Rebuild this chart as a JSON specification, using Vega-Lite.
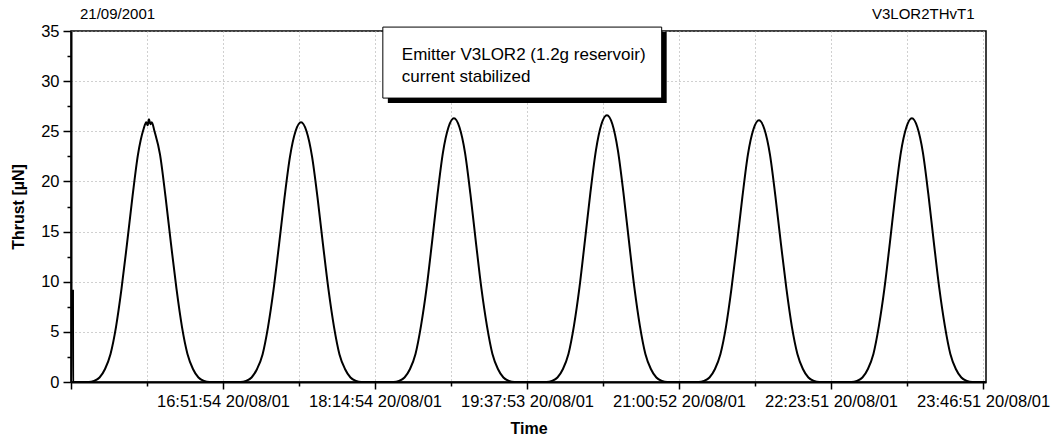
{
  "$schema": "https://vega.github.io/schema/vega-lite/v6.json",
  "autosize": {"type": "none"},
  "padding": {"left": 71, "top": 31, "right": 71, "bottom": 62},
  "width": 915,
  "height": 351,
  "background": "white",
  "config": {
    "font": "Liberation Sans",
    "view": {"stroke": "#000", "strokeWidth": 1.5},
    "axis": {
      "domainColor": "#000", "domainWidth": 2,
      "tickColor": "#000", "tickWidth": 1.5,
      "labelColor": "#000", "titleColor": "#000",
      "labelFont": "Liberation Sans", "titleFont": "Liberation Sans",
      "labelFontSize": 16.5, "titleFontSize": 16,
      "gridColor": "#a0a0a0", "gridDash": [1, 3], "gridWidth": 1
    }
  },
  "data": {"values": [
    {"time": "2001-08-20T15:30:00", "thrust": 9.2},
    {"time": "2001-08-20T15:30:05", "thrust": 0},
    {"time": "2001-08-20T15:38:30", "thrust": 0},
    {"time": "2001-08-20T15:41:30", "thrust": 0.1},
    {"time": "2001-08-20T15:44:30", "thrust": 0.45},
    {"time": "2001-08-20T15:47:30", "thrust": 1.3},
    {"time": "2001-08-20T15:50:30", "thrust": 2.8},
    {"time": "2001-08-20T15:53:30", "thrust": 5.5},
    {"time": "2001-08-20T15:56:30", "thrust": 9.3},
    {"time": "2001-08-20T15:59:30", "thrust": 13.8},
    {"time": "2001-08-20T16:02:30", "thrust": 18.5},
    {"time": "2001-08-20T16:05:30", "thrust": 22.7},
    {"time": "2001-08-20T16:08:30", "thrust": 25.2},
    {"time": "2001-08-20T16:10:00", "thrust": 25.9},
    {"time": "2001-08-20T16:10:45", "thrust": 25.6},
    {"time": "2001-08-20T16:11:30", "thrust": 26.2},
    {"time": "2001-08-20T16:12:15", "thrust": 25.7},
    {"time": "2001-08-20T16:13:00", "thrust": 25.9},
    {"time": "2001-08-20T16:14:30", "thrust": 25.0},
    {"time": "2001-08-20T16:17:30", "thrust": 22.7},
    {"time": "2001-08-20T16:20:30", "thrust": 18.5},
    {"time": "2001-08-20T16:23:30", "thrust": 13.8},
    {"time": "2001-08-20T16:26:30", "thrust": 9.3},
    {"time": "2001-08-20T16:29:30", "thrust": 5.5},
    {"time": "2001-08-20T16:32:30", "thrust": 2.8},
    {"time": "2001-08-20T16:35:30", "thrust": 1.3},
    {"time": "2001-08-20T16:38:30", "thrust": 0.45},
    {"time": "2001-08-20T16:41:30", "thrust": 0.1},
    {"time": "2001-08-20T16:44:30", "thrust": 0},
    {"time": "2001-08-20T17:01:30", "thrust": 0},
    {"time": "2001-08-20T17:04:30", "thrust": 0.1},
    {"time": "2001-08-20T17:07:30", "thrust": 0.45},
    {"time": "2001-08-20T17:10:30", "thrust": 1.3},
    {"time": "2001-08-20T17:13:30", "thrust": 2.75},
    {"time": "2001-08-20T17:16:30", "thrust": 5.5},
    {"time": "2001-08-20T17:19:30", "thrust": 9.2},
    {"time": "2001-08-20T17:22:30", "thrust": 13.7},
    {"time": "2001-08-20T17:25:30", "thrust": 18.4},
    {"time": "2001-08-20T17:28:30", "thrust": 22.5},
    {"time": "2001-08-20T17:31:30", "thrust": 25.0},
    {"time": "2001-08-20T17:34:30", "thrust": 25.9},
    {"time": "2001-08-20T17:37:30", "thrust": 25.0},
    {"time": "2001-08-20T17:40:30", "thrust": 22.5},
    {"time": "2001-08-20T17:43:30", "thrust": 18.4},
    {"time": "2001-08-20T17:46:30", "thrust": 13.7},
    {"time": "2001-08-20T17:49:30", "thrust": 9.2},
    {"time": "2001-08-20T17:52:30", "thrust": 5.5},
    {"time": "2001-08-20T17:55:30", "thrust": 2.75},
    {"time": "2001-08-20T17:58:30", "thrust": 1.3},
    {"time": "2001-08-20T18:01:30", "thrust": 0.45},
    {"time": "2001-08-20T18:04:30", "thrust": 0.1},
    {"time": "2001-08-20T18:07:30", "thrust": 0},
    {"time": "2001-08-20T18:25:00", "thrust": 0},
    {"time": "2001-08-20T18:28:00", "thrust": 0.1},
    {"time": "2001-08-20T18:31:00", "thrust": 0.45},
    {"time": "2001-08-20T18:34:00", "thrust": 1.3},
    {"time": "2001-08-20T18:37:00", "thrust": 2.8},
    {"time": "2001-08-20T18:40:00", "thrust": 5.6},
    {"time": "2001-08-20T18:43:00", "thrust": 9.3},
    {"time": "2001-08-20T18:46:00", "thrust": 13.9},
    {"time": "2001-08-20T18:49:00", "thrust": 18.7},
    {"time": "2001-08-20T18:52:00", "thrust": 22.9},
    {"time": "2001-08-20T18:55:00", "thrust": 25.4},
    {"time": "2001-08-20T18:58:00", "thrust": 26.3},
    {"time": "2001-08-20T19:01:00", "thrust": 25.4},
    {"time": "2001-08-20T19:04:00", "thrust": 22.9},
    {"time": "2001-08-20T19:07:00", "thrust": 18.7},
    {"time": "2001-08-20T19:10:00", "thrust": 13.9},
    {"time": "2001-08-20T19:13:00", "thrust": 9.3},
    {"time": "2001-08-20T19:16:00", "thrust": 5.6},
    {"time": "2001-08-20T19:19:00", "thrust": 2.8},
    {"time": "2001-08-20T19:22:00", "thrust": 1.3},
    {"time": "2001-08-20T19:25:00", "thrust": 0.45},
    {"time": "2001-08-20T19:28:00", "thrust": 0.1},
    {"time": "2001-08-20T19:31:00", "thrust": 0},
    {"time": "2001-08-20T19:48:30", "thrust": 0},
    {"time": "2001-08-20T19:51:30", "thrust": 0.1},
    {"time": "2001-08-20T19:54:30", "thrust": 0.45},
    {"time": "2001-08-20T19:57:30", "thrust": 1.3},
    {"time": "2001-08-20T20:00:30", "thrust": 2.8},
    {"time": "2001-08-20T20:03:30", "thrust": 5.6},
    {"time": "2001-08-20T20:06:30", "thrust": 9.4},
    {"time": "2001-08-20T20:09:30", "thrust": 14.1},
    {"time": "2001-08-20T20:12:30", "thrust": 18.9},
    {"time": "2001-08-20T20:15:30", "thrust": 23.1},
    {"time": "2001-08-20T20:18:30", "thrust": 25.7},
    {"time": "2001-08-20T20:21:30", "thrust": 26.6},
    {"time": "2001-08-20T20:24:30", "thrust": 25.7},
    {"time": "2001-08-20T20:27:30", "thrust": 23.1},
    {"time": "2001-08-20T20:30:30", "thrust": 18.9},
    {"time": "2001-08-20T20:33:30", "thrust": 14.1},
    {"time": "2001-08-20T20:36:30", "thrust": 9.4},
    {"time": "2001-08-20T20:39:30", "thrust": 5.6},
    {"time": "2001-08-20T20:42:30", "thrust": 2.8},
    {"time": "2001-08-20T20:45:30", "thrust": 1.3},
    {"time": "2001-08-20T20:48:30", "thrust": 0.45},
    {"time": "2001-08-20T20:51:30", "thrust": 0.1},
    {"time": "2001-08-20T20:54:30", "thrust": 0},
    {"time": "2001-08-20T21:11:30", "thrust": 0},
    {"time": "2001-08-20T21:14:30", "thrust": 0.1},
    {"time": "2001-08-20T21:17:30", "thrust": 0.45},
    {"time": "2001-08-20T21:20:30", "thrust": 1.3},
    {"time": "2001-08-20T21:23:30", "thrust": 2.8},
    {"time": "2001-08-20T21:26:30", "thrust": 5.5},
    {"time": "2001-08-20T21:29:30", "thrust": 9.3},
    {"time": "2001-08-20T21:32:30", "thrust": 13.8},
    {"time": "2001-08-20T21:35:30", "thrust": 18.5},
    {"time": "2001-08-20T21:38:30", "thrust": 22.7},
    {"time": "2001-08-20T21:41:30", "thrust": 25.2},
    {"time": "2001-08-20T21:44:30", "thrust": 26.1},
    {"time": "2001-08-20T21:47:30", "thrust": 25.2},
    {"time": "2001-08-20T21:50:30", "thrust": 22.7},
    {"time": "2001-08-20T21:53:30", "thrust": 18.5},
    {"time": "2001-08-20T21:56:30", "thrust": 13.8},
    {"time": "2001-08-20T21:59:30", "thrust": 9.3},
    {"time": "2001-08-20T22:02:30", "thrust": 5.5},
    {"time": "2001-08-20T22:05:30", "thrust": 2.8},
    {"time": "2001-08-20T22:08:30", "thrust": 1.3},
    {"time": "2001-08-20T22:11:30", "thrust": 0.45},
    {"time": "2001-08-20T22:14:30", "thrust": 0.1},
    {"time": "2001-08-20T22:17:30", "thrust": 0},
    {"time": "2001-08-20T22:35:00", "thrust": 0},
    {"time": "2001-08-20T22:38:00", "thrust": 0.1},
    {"time": "2001-08-20T22:41:00", "thrust": 0.45},
    {"time": "2001-08-20T22:44:00", "thrust": 1.3},
    {"time": "2001-08-20T22:47:00", "thrust": 2.8},
    {"time": "2001-08-20T22:50:00", "thrust": 5.6},
    {"time": "2001-08-20T22:53:00", "thrust": 9.3},
    {"time": "2001-08-20T22:56:00", "thrust": 13.9},
    {"time": "2001-08-20T22:59:00", "thrust": 18.7},
    {"time": "2001-08-20T23:02:00", "thrust": 22.9},
    {"time": "2001-08-20T23:05:00", "thrust": 25.4},
    {"time": "2001-08-20T23:08:00", "thrust": 26.3},
    {"time": "2001-08-20T23:11:00", "thrust": 25.4},
    {"time": "2001-08-20T23:14:00", "thrust": 22.9},
    {"time": "2001-08-20T23:17:00", "thrust": 18.7},
    {"time": "2001-08-20T23:20:00", "thrust": 13.9},
    {"time": "2001-08-20T23:23:00", "thrust": 9.3},
    {"time": "2001-08-20T23:26:00", "thrust": 5.6},
    {"time": "2001-08-20T23:29:00", "thrust": 2.8},
    {"time": "2001-08-20T23:32:00", "thrust": 1.3},
    {"time": "2001-08-20T23:35:00", "thrust": 0.45},
    {"time": "2001-08-20T23:38:00", "thrust": 0.1},
    {"time": "2001-08-20T23:41:00", "thrust": 0},
    {"time": "2001-08-20T23:48:00", "thrust": 0}
  ]},
  "resolve": {"axis": {"x": "independent", "y": "independent"}},
  "layer": [
    {
      "mark": {"type": "line", "opacity": 0},
      "encoding": {
        "x": {"field": "time", "type": "temporal",
          "scale": {"domain": [
            {"year": 2001, "month": 8, "date": 20, "hours": 15, "minutes": 28, "seconds": 55},
            {"year": 2001, "month": 8, "date": 20, "hours": 23, "minutes": 48, "seconds": 28}]},
          "axis": {"orient": "bottom", "title": null, "labels": false, "domain": false,
            "tickSize": 4, "grid": true,
            "values": [
              {"year": 2001, "month": 8, "date": 20, "hours": 16, "minutes": 10, "seconds": 25},
              {"year": 2001, "month": 8, "date": 20, "hours": 17, "minutes": 33, "seconds": 24},
              {"year": 2001, "month": 8, "date": 20, "hours": 18, "minutes": 56, "seconds": 23},
              {"year": 2001, "month": 8, "date": 20, "hours": 20, "minutes": 19, "seconds": 22},
              {"year": 2001, "month": 8, "date": 20, "hours": 21, "minutes": 42, "seconds": 21},
              {"year": 2001, "month": 8, "date": 20, "hours": 23, "minutes": 5, "seconds": 21}]}},
        "y": {"field": "thrust", "type": "quantitative",
          "scale": {"domain": [0, 35], "nice": false},
          "axis": {"orient": "left", "title": null, "labels": false, "domain": false,
            "grid": false, "tickSize": 4,
            "values": [2.5, 7.5, 12.5, 17.5, 22.5, 27.5, 32.5]}}
      }
    },
    {
      "mark": {"type": "line", "color": "#000", "strokeWidth": 2, "interpolate": "monotone"},
      "encoding": {
        "x": {"field": "time", "type": "temporal",
          "scale": {"domain": [
            {"year": 2001, "month": 8, "date": 20, "hours": 15, "minutes": 28, "seconds": 55},
            {"year": 2001, "month": 8, "date": 20, "hours": 23, "minutes": 48, "seconds": 28}]},
          "axis": {"orient": "bottom", "title": "Time", "titleFontWeight": "bold",
            "titlePadding": 11, "tickSize": 7, "labelPadding": 4, "grid": true,
            "format": "%H:%M:%S %d/%m/%y", "labelFlush": false, "labelOverlap": false,
            "labelExpr": "datum.value < datetime(2001, 7, 20, 15, 40) ? '' : datum.label",
            "values": [
              {"year": 2001, "month": 8, "date": 20, "hours": 15, "minutes": 28, "seconds": 55},
              {"year": 2001, "month": 8, "date": 20, "hours": 16, "minutes": 51, "seconds": 54},
              {"year": 2001, "month": 8, "date": 20, "hours": 18, "minutes": 14, "seconds": 54},
              {"year": 2001, "month": 8, "date": 20, "hours": 19, "minutes": 37, "seconds": 53},
              {"year": 2001, "month": 8, "date": 20, "hours": 21, "minutes": 0, "seconds": 52},
              {"year": 2001, "month": 8, "date": 20, "hours": 22, "minutes": 23, "seconds": 51},
              {"year": 2001, "month": 8, "date": 20, "hours": 23, "minutes": 46, "seconds": 51}]}},
        "y": {"field": "thrust", "type": "quantitative",
          "scale": {"domain": [0, 35], "nice": false},
          "axis": {"orient": "left", "title": "Thrust [µN]", "titleFontWeight": "bold",
            "titlePadding": 14, "tickSize": 8, "labelPadding": 4, "grid": true,
            "values": [0, 5, 10, 15, 20, 25, 30, 35]}}
      }
    },
    {
      "data": {"values": [{}]},
      "mark": {"type": "rect", "fill": "#000"},
      "encoding": {
        "x": {"datum": {"year": 2001, "month": 8, "date": 20, "hours": 18, "minutes": 21, "seconds": 54}, "type": "temporal", "axis": null},
        "x2": {"datum": {"year": 2001, "month": 8, "date": 20, "hours": 20, "minutes": 54, "seconds": 8}},
        "y": {"datum": 34.9, "type": "quantitative", "axis": null},
        "y2": {"datum": 27.82}
      }
    },
    {
      "data": {"values": [{}]},
      "mark": {"type": "rect", "fill": "#fff", "stroke": "#000", "strokeWidth": 1},
      "encoding": {
        "x": {"datum": {"year": 2001, "month": 8, "date": 20, "hours": 18, "minutes": 19, "seconds": 10}, "type": "temporal", "axis": null},
        "x2": {"datum": {"year": 2001, "month": 8, "date": 20, "hours": 20, "minutes": 51, "seconds": 24}},
        "y": {"datum": 35.39, "type": "quantitative", "axis": null},
        "y2": {"datum": 28.31}
      }
    },
    {
      "data": {"values": [{}]},
      "mark": {"type": "text", "text": ["Emitter V3LOR2 (1.2g reservoir)", "current stabilized"],
        "align": "left", "baseline": "alphabetic", "fontSize": 17, "lineHeight": 22, "color": "#000"},
      "encoding": {
        "x": {"datum": {"year": 2001, "month": 8, "date": 20, "hours": 18, "minutes": 29, "seconds": 32}, "type": "temporal", "axis": null},
        "y": {"datum": 32.13, "type": "quantitative", "axis": null}
      }
    },
    {
      "data": {"values": [{}]},
      "mark": {"type": "text", "text": "21/09/2001", "align": "left", "baseline": "alphabetic", "fontSize": 15, "color": "#000"},
      "encoding": {
        "x": {"datum": {"year": 2001, "month": 8, "date": 20, "hours": 15, "minutes": 33, "seconds": 50}, "type": "temporal", "axis": null},
        "y": {"datum": 36.2, "type": "quantitative", "axis": null}
      }
    },
    {
      "data": {"values": [{}]},
      "mark": {"type": "text", "text": "V3LOR2THvT1", "align": "right", "baseline": "alphabetic", "fontSize": 15, "color": "#000"},
      "encoding": {
        "x": {"datum": {"year": 2001, "month": 8, "date": 20, "hours": 23, "minutes": 42, "seconds": 12}, "type": "temporal", "axis": null},
        "y": {"datum": 36.2, "type": "quantitative", "axis": null}
      }
    }
  ]
}
